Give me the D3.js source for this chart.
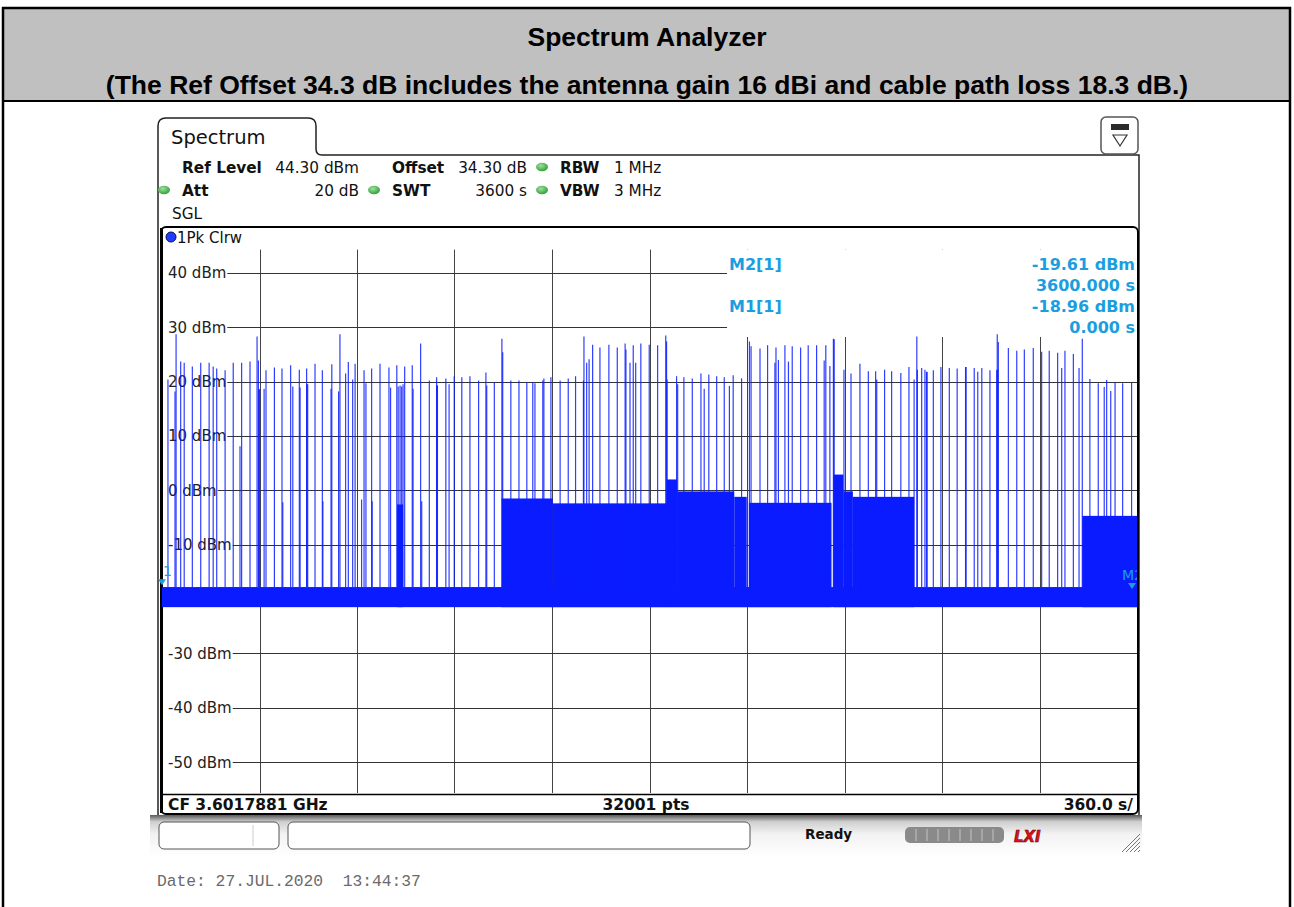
<!DOCTYPE html>
<html>
<head>
<meta charset="utf-8">
<script src="https://cdn.jsdelivr.net/npm/d3@7"></script>
<style>
  body { margin: 0; background: #fff; }
  svg { display: block; }
</style>
</head>
<body>
<div id="chart"></div>
<script>
// ---- values ----
let timeTicks = [0, 360, 720, 1080, 1440, 1800, 2160, 2520, 2880, 3240, 3600];
let levelTicks = [40, 30, 20, 10, 0, -10, -20, -30, -40, -50];

// noise floor band of the trace (dBm)
let floorBottom = -21.5;
let floorTop = -17.8;

// stretches where the trace sits well above the floor
let blockStart = [868, 1254, 1443, 1864, 1902, 2113, 2167, 2479, 2516, 2551, 3398];
let blockEnd   = [890, 1443, 1864, 1902, 2113, 2159, 2472, 2516, 2551, 2777, 3600];
let blockLevel = [-2.6, -1.5, -2.4, 2.0, -0.2, -1.2, -2.3, 2.9, -0.2, -1.2, -4.7];

// single sweep spikes: time (s) and peak level (dBm)
let spikeTime = [22, 48, 52, 69, 82, 112, 143, 174, 189, 202, 233, 263, 288, 294, 325, 351, 356, 358, 360,
  377, 384, 415, 443, 446, 475, 483, 507, 510, 534, 535, 538, 565, 592, 594, 624, 627, 652, 657, 678, 688,
  704, 713, 737, 746, 753, 774, 776, 805, 838, 844, 867, 872, 879, 885, 890, 896, 924, 927, 955, 959, 987,
  1014, 1015, 1017, 1048, 1060, 1079, 1107, 1137, 1169, 1196, 1199, 1227, 1255, 1258, 1288, 1318, 1347,
  1369, 1377, 1406, 1410, 1436, 1470, 1500, 1527, 1556, 1558, 1568, 1577, 1590, 1617, 1650, 1681, 1710,
  1713, 1728, 1740, 1749, 1768, 1799, 1830, 1860, 1863, 1865, 1900, 1904, 1927, 1958, 1990, 2002, 2019,
  2048, 2076, 2095, 2109, 2140, 2169, 2175, 2208, 2236, 2263, 2267, 2276, 2300, 2313, 2327, 2358, 2386,
  2417, 2445, 2451, 2466, 2479, 2482, 2518, 2544, 2577, 2608, 2635, 2639, 2668, 2694, 2728, 2758, 2777,
  2787, 2789, 2805, 2817, 2823, 2825, 2848, 2876, 2907, 2936, 2967, 2969, 2999, 3012, 3027, 3057, 3082,
  3084, 3086, 3088, 3125, 3156, 3184, 3217, 3248, 3276, 3307, 3322, 3334, 3365, 3386, 3398, 3426, 3457,
  3479, 3488, 3503, 3519, 3547, 3580];
let spikePeak = [20.4, 18.2, 28.7, 23.7, 23.5, 22.8, 23.5, 23.5, 22.8, 22.4, 22.1, 23.5, 8.1, 23.5, 23.7, 28.3, 23.9, 18.6, 18.6,
  18.7, 22.1, 22.6, 22.4, -2.2, 23.0, 19.1, 22.2, 18.9, 22.4, 19.5, 19.5, 23.3, 22.1, -2.0, 18.7, 23.2, 18.2, 28.7, 21.5, 23.6,
  20.4, 23.3, -1.7, 22.1, 19.7, 22.4, -2.0, 23.3, 22.6, 18.9, 23.0, 19.1, 19.3, 19.1, 19.5, 22.8, 23.0, 18.7, 27.0, -2.0, 20.2,
  20.8, 19.3, 19.3, 20.6, 19.5, 21.0, 20.8, 21.0, 20.2, 21.7, 19.3, 19.9, 27.9, 25.4, 20.2, 20.2, 19.9,
  19.9, 19.7, 20.2, 20.6, 20.8, 20.2, 20.6, 21.0, 20.2, 28.3, 23.5, 24.1, 26.8, 26.3, 26.8, 26.3, 27.0,
  25.9, 23.5, 26.7, 23.5, 27.0, 26.8, 26.7, 28.5, 27.4, 20.4, 21.0, 19.5, 20.8, 20.6, 21.5, 18.7, 21.3,
  21.0, 20.8, 19.2, 21.2, 20.6, 27.4, 26.5, 26.1, 26.7, 23.5, 26.3, 24.0, 26.7, 23.7, 26.5, 26.3, 26.7,
  26.7, 23.9, 26.7, 22.9, 27.9, 27.8, 22.2, 21.5, 23.3, 21.9, 21.9, 20.4, 22.2, 21.9, 21.6, 22.7, 20.4,
  28.3, 22.2, 22.5, 22.2, 21.8, 21.8, 22.1, 22.7, 22.5, 22.4, 22.7, 22.7, 22.5, 21.8, 22.5, 22.1, 22.2,
  28.7, 22.2, 27.3, 26.2, 25.7, 25.9, 26.2, 25.5, 25.7, 25.3, 22.5, 25.7, 25.1, 22.5, 27.9, 20.5, 19.7,
  19.0, 20.3, 18.3, 19.8, 19.7, 19.8];

let markerName  = ['1', 'M2'];
let markerTime  = [0, 3600];
let markerLevel = [-18.96, -19.61];

let infoLabels = ['M2[1]', '', 'M1[1]', ''];
let infoValues = ['-19.61 dBm', '3600.000 s', '-18.96 dBm', '0.000 s'];

let width = 1294, height = 907;
let plot = { left: 162, right: 1137, top: 249.6, bottom: 793 };

let svg = d3.select('#chart')
  .append('svg')
  .attr('width', width)
  .attr('height', height)
  .style('background', 'white');

let defs = svg.append('defs');
let grad = defs.append('linearGradient').attr('id', 'statusGrad')
  .attr('x1', 0).attr('y1', 0).attr('x2', 0).attr('y2', 1);
grad.append('stop').attr('offset', '0%').attr('stop-color', '#5a5a5a');
grad.append('stop').attr('offset', '16%').attr('stop-color', '#cfcfcf');
grad.append('stop').attr('offset', '45%').attr('stop-color', '#f2f2f2');
grad.append('stop').attr('offset', '100%').attr('stop-color', '#ffffff');

let dotGrad = defs.append('radialGradient').attr('id', 'dotGrad')
  .attr('cx', '40%').attr('cy', '35%').attr('r', '70%');
dotGrad.append('stop').attr('offset', '0%').attr('stop-color', '#9be39b');
dotGrad.append('stop').attr('offset', '100%').attr('stop-color', '#2e9a36');

defs.append('clipPath').attr('id', 'plotClip')
  .append('rect')
  .attr('x', plot.left).attr('y', plot.top)
  .attr('width', plot.right - plot.left).attr('height', plot.bottom - plot.top);

// ---- page frame and header ----
svg.append('rect')
  .attr('x', 3).attr('y', 8).attr('width', 1287).attr('height', 93)
  .attr('fill', '#c0c0c0');
svg.append('rect')
  .attr('x', 3).attr('y', 8).attr('width', 1287).attr('height', 920)
  .attr('fill', 'none').attr('stroke', '#000').attr('stroke-width', 2.5);
svg.append('line')
  .attr('x1', 3).attr('x2', 1290).attr('y1', 101).attr('y2', 101)
  .attr('stroke', '#000').attr('stroke-width', 2);

let headFont = '"Liberation Sans", Arial, sans-serif';
svg.append('text')
  .text('Spectrum Analyzer')
  .attr('x', width / 2).attr('y', 46)
  .attr('text-anchor', 'middle')
  .style('font-family', headFont)
  .style('font-weight', 'bold').style('font-size', '26.5px');
svg.append('text')
  .text('(The Ref Offset 34.3 dB includes the antenna gain 16 dBi and cable path loss 18.3 dB.)')
  .attr('x', width / 2).attr('y', 94)
  .attr('text-anchor', 'middle')
  .style('font-family', headFont)
  .style('font-weight', 'bold').style('font-size', '26.5px');

// ---- instrument screen ----
let font = '"DejaVu Sans", Verdana, sans-serif';

// tab + outer panel outline
svg.append('path')
  .attr('d', 'M158,818 L158,126 Q158,118 166,118 L308,118 Q316,118 316,126 L316,149 Q316,155 322,155 L1139,155 L1139,818')
  .attr('fill', 'none').attr('stroke', '#222').attr('stroke-width', 1.5);
svg.append('text').text('Spectrum')
  .attr('x', 171).attr('y', 144)
  .style('font-family', font).style('font-size', '19.5px').attr('fill', '#111');

// small icon top right
svg.append('rect')
  .attr('x', 1101).attr('y', 117).attr('width', 37).attr('height', 37).attr('rx', 5)
  .attr('fill', '#fff').attr('stroke', '#555').attr('stroke-width', 1.5);
svg.append('rect')
  .attr('x', 1111).attr('y', 124).attr('width', 18).attr('height', 6)
  .attr('fill', '#2a2a2a');
svg.append('path')
  .attr('d', 'M1113,135 L1127,135 L1120,146 Z')
  .attr('fill', 'none').attr('stroke', '#333').attr('stroke-width', 1.2);

// setting lines
let info = svg.append('g').style('font-family', font).style('font-size', '15.3px').attr('fill', '#111');
function put(txt, x, y, bold, anchor) {
  info.append('text').text(txt).attr('x', x).attr('y', y)
    .attr('text-anchor', anchor || 'start')
    .style('font-weight', bold ? 'bold' : 'normal');
}
function dot(x, y) {
  svg.append('ellipse').attr('cx', x).attr('cy', y).attr('rx', 6).attr('ry', 4.2)
    .attr('fill', 'url(#dotGrad)');
}
put('Ref Level', 182, 172.5, true);
put('44.30 dBm', 359, 172.5, false, 'end');
put('Offset', 392, 172.5, true);
put('34.30 dB', 527, 172.5, false, 'end');
dot(542, 167);
put('RBW', 560, 172.5, true);
put('1 MHz', 614, 172.5, false);

dot(164, 190);
put('Att', 182, 195.5, true);
put('20 dB', 359, 195.5, false, 'end');
dot(374, 190);
put('SWT', 392, 195.5, true);
put('3600 s', 527, 195.5, false, 'end');
dot(542, 190);
put('VBW', 560, 195.5, true);
put('3 MHz', 614, 195.5, false);
put('SGL', 172, 218.5, false);

// diagram frame
svg.append('rect')
  .attr('x', 161).attr('y', 227).attr('width', 977).attr('height', 587).attr('rx', 5)
  .attr('fill', 'none').attr('stroke', '#000').attr('stroke-width', 2);
svg.append('line')
  .attr('x1', 161.5).attr('x2', 161.5).attr('y1', 228).attr('y2', 813)
  .attr('stroke', '#000').attr('stroke-width', 3);
svg.append('circle').attr('cx', 171).attr('cy', 237).attr('r', 5)
  .attr('fill', '#1f3dff').attr('stroke', '#0a0a60').attr('stroke-width', 1);
svg.append('text').text('1Pk Clrw')
  .attr('x', 177).attr('y', 242.5)
  .style('font-family', font).style('font-size', '15px').attr('fill', '#111');

// ---- scales ----
let xscale = d3.scaleLinear().domain([0, 3600]).range([plot.left, plot.right]);
let yscale = d3.scaleLinear().domain([-55.7, 44.3]).range([plot.bottom, plot.top]);

// grid
let grid = svg.append('g');
grid.selectAll('line.v')
  .data(timeTicks.slice(1, -1))
  .enter()
  .append('line')
  .attr('x1', d => Math.round(xscale(d)) + 0.5)
  .attr('x2', d => Math.round(xscale(d)) + 0.5)
  .attr('y1', plot.top)
  .attr('y2', plot.bottom)
  .attr('stroke', '#444').attr('stroke-width', 1);

let labels = grid.selectAll('text.lvl')
  .data(levelTicks)
  .enter()
  .append('text')
  .attr('class', 'lvl')
  .text(d => d + ' dBm')
  .attr('x', 168)
  .attr('y', d => yscale(d) + 5.5)
  .style('font-family', font).style('font-size', '15px').attr('fill', '#222');

labels.each(function(d) {
  let end = 168 + this.getComputedTextLength() + 1;
  grid.append('line')
    .attr('x1', end).attr('x2', plot.right)
    .attr('y1', Math.round(yscale(d)) + 0.5).attr('y2', Math.round(yscale(d)) + 0.5)
    .attr('stroke', '#333').attr('stroke-width', 1);
});

// marker table area hides the grid behind it
svg.append('rect')
  .attr('x', 727).attr('y', plot.top).attr('width', plot.right - 727).attr('height', 337 - plot.top)
  .attr('fill', '#fff');

// ---- trace ----
let trace = svg.append('g').attr('clip-path', 'url(#plotClip)');
let blue = '#0a1cff';

trace.append('rect')
  .attr('x', xscale(0)).attr('width', xscale(3600) - xscale(0))
  .attr('y', yscale(floorTop)).attr('height', yscale(floorBottom) - yscale(floorTop))
  .attr('fill', blue);

trace.selectAll('rect.block')
  .data(blockLevel)
  .enter()
  .append('rect')
  .attr('x', (d, i) => xscale(blockStart[i]))
  .attr('width', (d, i) => xscale(blockEnd[i]) - xscale(blockStart[i]))
  .attr('y', d => yscale(d))
  .attr('height', d => yscale(floorBottom) - yscale(d))
  .attr('fill', blue);

trace.selectAll('line.spike')
  .data(spikePeak)
  .enter()
  .append('line')
  .attr('x1', (d, i) => xscale(spikeTime[i]))
  .attr('x2', (d, i) => xscale(spikeTime[i]))
  .attr('y1', yscale(floorTop))
  .attr('y2', d => yscale(d))
  .attr('stroke', blue).attr('stroke-width', 1.2).attr('stroke-opacity', 0.85);

// markers
let cyan = '#1b9ee0';
markerName.forEach((m, i) => {
  let mx = Math.min(xscale(markerTime[i]), plot.right - 5);
  let my = yscale(markerLevel[i]) - 8;
  svg.append('path')
    .attr('d', `M${mx - 4},${my - 6} L${mx + 4},${my - 6} L${mx},${my} Z`)
    .attr('fill', cyan);
  svg.append('text').text(m)
    .attr('x', i === 0 ? mx + 1 : mx - 10).attr('y', my - 9)
    .attr('clip-path', 'url(#plotClip)')
    .style('font-family', font).style('font-size', '14px').attr('fill', cyan);
});

// marker table
let mt = svg.append('g').style('font-family', font).style('font-size', '16px')
  .style('font-weight', 'bold').attr('fill', cyan);
infoValues.forEach((v, i) => {
  let yy = 270 + i * 21;
  if (infoLabels[i]) mt.append('text').text(infoLabels[i]).attr('x', 729).attr('y', yy);
  mt.append('text').text(v).attr('x', 1135).attr('y', yy).attr('text-anchor', 'end');
});

// bottom bar of the diagram
svg.append('line')
  .attr('x1', 161).attr('x2', 1138).attr('y1', 794.5).attr('y2', 794.5)
  .attr('stroke', '#000').attr('stroke-width', 1.5);
let bb = svg.append('g').style('font-family', font).style('font-size', '15.5px')
  .style('font-weight', 'bold').attr('fill', '#111');
bb.append('text').text('CF 3.6017881 GHz').attr('x', 168).attr('y', 810);
bb.append('text').text('32001 pts').attr('x', 646).attr('y', 810).attr('text-anchor', 'middle');
bb.append('text').text('360.0 s/').attr('x', 1133).attr('y', 810).attr('text-anchor', 'end');

// ---- status bar ----
svg.append('rect')
  .attr('x', 150).attr('y', 815).attr('width', 992).attr('height', 42)
  .attr('fill', 'url(#statusGrad)');
svg.append('rect')
  .attr('x', 159).attr('y', 822).attr('width', 120).attr('height', 27).attr('rx', 5)
  .attr('fill', '#fff').attr('stroke', '#555');
svg.append('line')
  .attr('x1', 253).attr('x2', 253).attr('y1', 825).attr('y2', 846)
  .attr('stroke', '#ccc');
svg.append('rect')
  .attr('x', 288).attr('y', 822).attr('width', 462).attr('height', 27).attr('rx', 5)
  .attr('fill', '#fff').attr('stroke', '#555');
svg.append('text').text('Ready')
  .attr('x', 805).attr('y', 839)
  .style('font-family', font).style('font-size', '13.5px').style('font-weight', 'bold')
  .attr('fill', '#111');
svg.append('rect')
  .attr('x', 905).attr('y', 827).attr('width', 99).attr('height', 16).attr('rx', 5)
  .attr('fill', '#8a8a8a');
for (let k = 1; k < 9; k++) {
  svg.append('line')
    .attr('x1', 905 + k * 11).attr('x2', 905 + k * 11).attr('y1', 829).attr('y2', 841)
    .attr('stroke', '#c4c4c4').attr('stroke-width', 1);
}
svg.append('text').text('LXI')
  .attr('x', 1014).attr('y', 842)
  .style('font-family', font).style('font-size', '15px').style('font-weight', 'bold')
  .style('font-style', 'italic')
  .attr('fill', '#e0101a').attr('stroke', '#6a0008').attr('stroke-width', 0.6);
for (let k = 0; k < 5; k++) {
  svg.append('line')
    .attr('x1', 1122 + k * 4).attr('y1', 852)
    .attr('x2', 1140).attr('y2', 834 + k * 4)
    .attr('stroke', '#777').attr('stroke-width', 1);
}

svg.append('text').text('Date: 27.JUL.2020  13:44:37')
  .attr('x', 157).attr('y', 886)
  .style('white-space', 'pre')
  .style('font-family', '"Liberation Mono", "Courier New", monospace')
  .style('font-size', '16.3px').attr('fill', '#6a6a6a');
</script>
</body>
</html>
